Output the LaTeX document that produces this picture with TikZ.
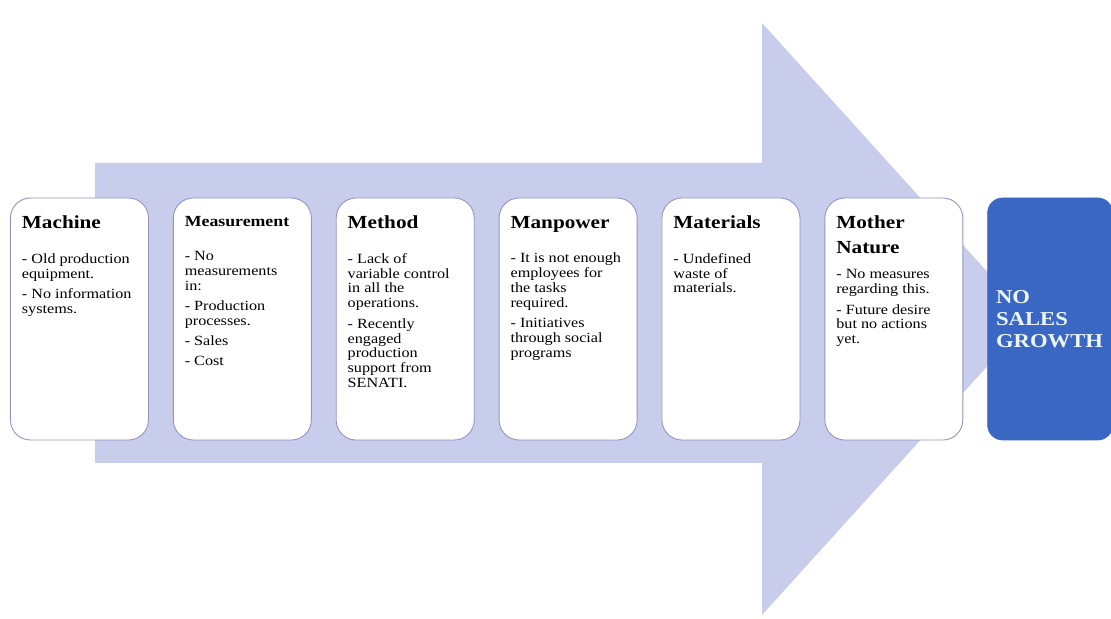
\documentclass[tikz,border=0pt]{standalone}
\usepackage{fontspec}
\setmainfont{Liberation Serif}[FakeStretch=1.15]
\usepackage{tikz}
\usetikzlibrary{positioning}
\definecolor{arrowfill}{RGB}{201,205,236}
\definecolor{boxline}{RGB}{146,148,196}
\definecolor{effectblue}{RGB}{58,103,196}
\definecolor{effecttext}{RGB}{236,246,250}

% title + items inside one cause box
\newcommand{\causetext}[3][8pt]{%
  \parbox[c][4.12cm][t]{2.3cm}{\raggedright
    {\fontsize{10.5}{14}\selectfont\bfseries #2\par}%
    \vspace{#1}%
    \setlength{\parskip}{3pt}%
    \fontsize{8}{8.5}\selectfont #3}}

\begin{document}
\begin{tikzpicture}[
    cause/.style={draw=boxline, fill=white, rounded corners=0.4cm, line width=0.5pt,
                  minimum width=2.76cm, minimum height=4.84cm, inner sep=0pt},
    effect/.style={draw=effectblue, fill=effectblue, rounded corners=0.3cm,
                   minimum width=2.5cm, minimum height=4.84cm, inner sep=0pt,
                   text width=2.16cm, align=left, text=effecttext,
                   font=\bfseries\fontsize{11.2}{12.5}\selectfont}
]
    \useasboundingbox (0,0) rectangle (22.22,12.38);

    % Big arrow behind the boxes
    \fill[arrowfill] (1.9,3.12) -- (15.24,3.12) -- (15.24,0.08) -- (20.6,6.0)
        -- (15.24,11.92) -- (15.24,9.12) -- (1.9,9.12) -- cycle;

    % Machine
    \node[cause, anchor=west] (machine) at (0.2,6.0)
        {\causetext{Machine}{- Old production\\equipment.\par
                             - No information\\systems.}};

    % Measurement
    \node[cause, right=0.48cm of machine] (measurement)
        {\causetext{{\fontsize{8.8}{11}\selectfont Measurement}}{- No\\measurements\\in:\par
                             - Production\\processes.\par
                             - Sales\par
                             - Cost}};

    % Method
    \node[cause, right=0.48cm of measurement] (method)
        {\causetext{Method}{- Lack of\\variable control\\in all the\\operations.\par
                            - Recently\\engaged\\production\\support from\\SENATI.}};

    % Manpower
    \node[cause, right=0.48cm of method] (manpower)
        {\causetext{Manpower}{- It is not enough\\employees for\\the tasks\\required.\par
                              - Initiatives\\through social\\programs}};

    % Materials
    \node[cause, right=0.48cm of manpower] (materials)
        {\causetext{Materials}{- Undefined\\waste of\\materials.}};

    % Mother Nature
    \node[cause, right=0.48cm of materials] (mother)
        {\causetext[3pt]{Mother\\Nature}{- No measures\\regarding this.\par
                                   - Future desire\\but no actions\\yet.}};

    % Effect
    \node[effect, right=0.48cm of mother] (growth) {NO\\SALES\\GROWTH};

\end{tikzpicture}
\end{document}
